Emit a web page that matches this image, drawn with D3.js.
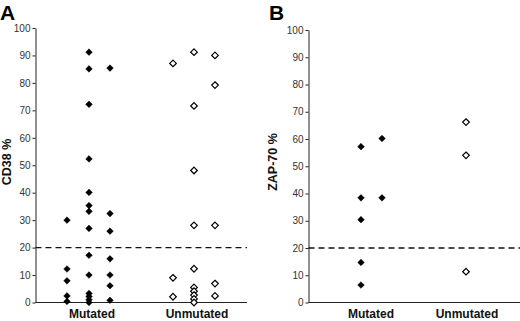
<!DOCTYPE html>
<html><head><meta charset="utf-8">
<script src="https://cdn.jsdelivr.net/npm/d3@7"></script>
<style>body{margin:0;background:#fff}svg{display:block}</style>
</head><body>
<script>
const categories = ["Mutated", "Unmutated"];
const yTicks = [0,10,20,30,40,50,60,70,80,90,100];
const threshold = 20;
// Panel A: CD38 %, three sub-columns per category
const cd38Mutated = [
  [30, 12.2, 7.9, 2.4, 0.4],
  [91.2, 85.1, 72.2, 52.3, 40.1, 35.3, 33.2, 27, 17.2, 10, 3.3, 2.2, 1, 0],
  [85.4, 32.4, 26, 15.9, 10, 6.1, 0.8]
];
const cd38Unmutated = [
  [87.1, 9, 2.1],
  [91.2, 71.6, 48.1, 28.1, 12.3, 5.5, 4.1, 2.7, 1.3, 0],
  [90, 79.2, 28.1, 6.9, 2.4]
];
// Panel B: ZAP-70 %
const zapMutated = [
  [57.2, 38.4, 30.4, 14.7, 6.4],
  [60.2, 38.4]
];
const zapUnmutated = [
  [66.2, 54, 11.3]
];

const svg = d3.select("body").append("svg").attr("width",520).attr("height",321);
const font = "Arial, 'Liberation Sans', sans-serif";

function panel(opt){
  const g = svg.append("g");
  const y = d3.scaleLinear().domain([0,100]).range([opt.y0, opt.y100]);
  // y axis
  const ya = g.append("g").attr("transform",`translate(${opt.x0},0)`)
    .call(d3.axisLeft(y).tickValues(yTicks).tickSize(3).tickSizeOuter(0).tickPadding(2));
  ya.select(".domain").attr("stroke","#222");
  ya.selectAll(".tick line").attr("stroke","#222");
  ya.selectAll("text").attr("font-family",font).attr("font-size",10).attr("fill","#333");
  // x axis
  g.append("line").attr("x1",opt.x0).attr("x2",opt.xEnd).attr("y1",y(0)).attr("y2",y(0))
    .attr("stroke","#222").attr("stroke-width",1);
  // category labels
  categories.forEach((c,i)=>{
    g.append("text").attr("x",opt.labelX[i]).attr("y",318).attr("text-anchor","middle")
      .attr("font-family",font).attr("font-weight","bold").attr("font-size",12).attr("fill","#111").text(c);
  });
  // threshold
  g.append("line").attr("x1",opt.x0).attr("x2",opt.xEnd).attr("y1",y(threshold)).attr("y2",y(threshold))
    .attr("stroke","#111").attr("stroke-width",1.3).attr("stroke-dasharray","6,4");
  // title
  g.append("text").attr("transform",`translate(${opt.titleX},${opt.titleY}) rotate(-90)`)
    .attr("text-anchor","middle").attr("font-family",font).attr("font-weight","bold")
    .attr("font-size",12.5).attr("fill","#111").text(opt.title);
  g.append("text").attr("x",opt.letterX).attr("y",19.5).attr("font-family",font)
    .attr("font-weight","bold").attr("font-size",21).attr("fill","#000").text(opt.letter);
  // points
  const sym = d3.symbol().type(d3.symbolDiamond2).size(28);
  [opt.mut, opt.unmut].forEach((cols,ci)=>{
    cols.forEach((vals,k)=>{
      const cx = opt.colX[ci][k];
      vals.forEach(v=>{
        g.append("path").attr("d",sym).attr("transform",`translate(${cx},${y(v)})`)
          .attr("fill", ci===0 ? "#000" : "#fff")
          .attr("stroke","#000").attr("stroke-width", ci===0?0.5:1.2);
      });
    });
  });
}

panel({x0:35.5, xEnd:247, y0:302.5, y100:28, labelX:[92,197],
  colX:[[67,89,110],[173,194,215]], mut:cd38Mutated, unmut:cd38Unmutated,
  title:"CD38 %", titleX:11, titleY:162, letter:"A", letterX:0});
panel({x0:308.5, xEnd:520, y0:302.5, y100:30, labelX:[371,467],
  colX:[[361,382],[466]], mut:zapMutated, unmut:zapUnmutated,
  title:"ZAP-70 %", titleX:277, titleY:162, letter:"B", letterX:269});
</script>
</body></html>
